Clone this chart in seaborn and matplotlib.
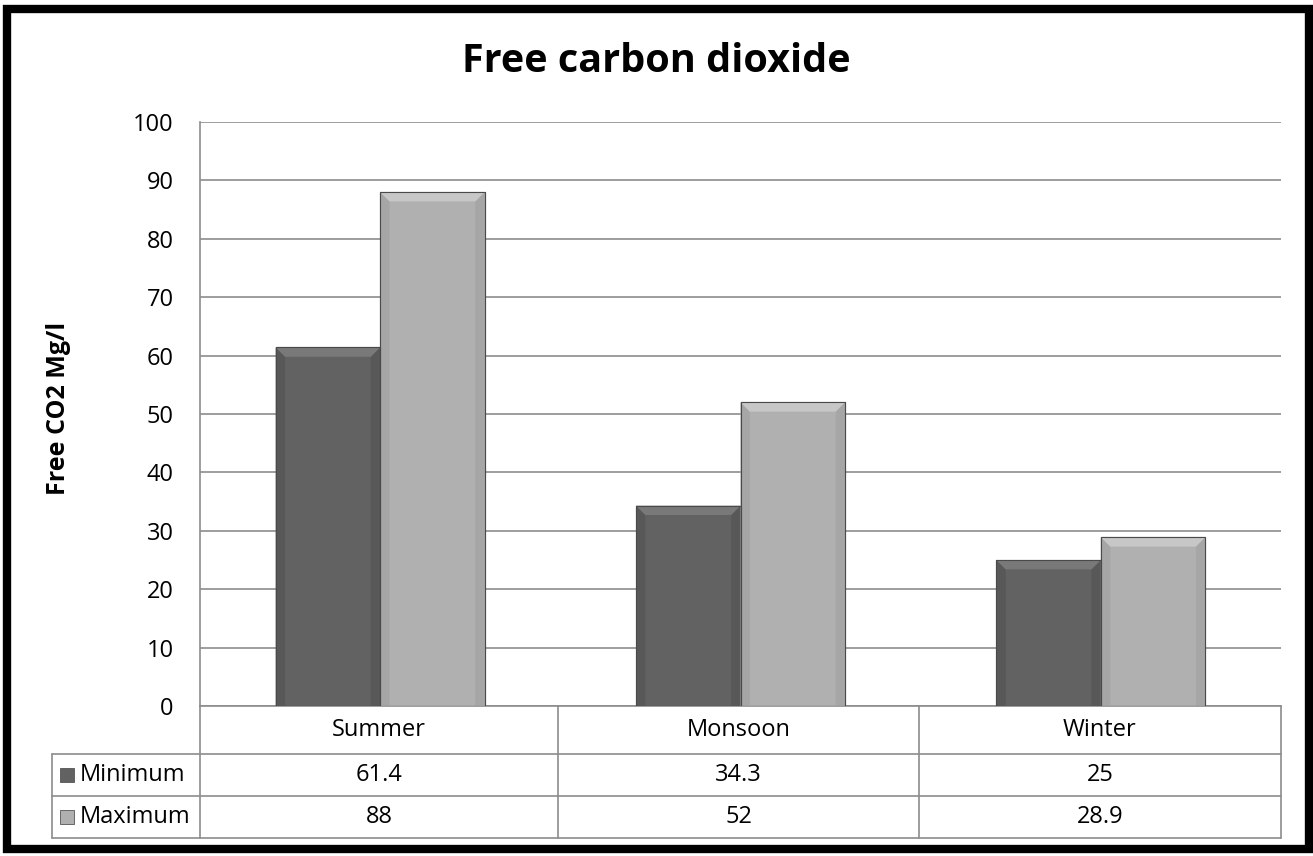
import matplotlib
matplotlib.use("Agg")
import matplotlib.pyplot as plt
import seaborn as sns
import pandas as pd
from matplotlib.patches import Polygon, Rectangle

seasons = ["Summer", "Monsoon", "Winter"]
minimum = [61.4, 34.3, 25]
maximum = [88, 52, 28.9]
series = ["Minimum", "Maximum"]
yticks = [0, 10, 20, 30, 40, 50, 60, 70, 80, 90, 100]

colors = {"Minimum": "#626262", "Maximum": "#b0b0b0"}

df = pd.DataFrame({
    "season": seasons * 2,
    "series": ["Minimum"] * 3 + ["Maximum"] * 3,
    "value": minimum + maximum,
})

sns.set_theme(style="white")
plt.rcParams["font.family"] = ["Open Sans", "DejaVu Sans"]
plt.rcParams["text.color"] = "black"
plt.rcParams["axes.labelcolor"] = "black"
plt.rcParams["ytick.color"] = "black"

W, H = 1313, 856
fig = plt.figure(figsize=(W / 100, H / 100), dpi=100)
ax = fig.add_axes([200 / W, 1 - 706 / H, (1281 - 200) / W, (706 - 122) / H])

sns.barplot(data=df, x="season", y="value", hue="series", order=seasons,
            hue_order=series, palette=colors, width=0.58, gap=0,
            saturation=1, edgecolor="#4a4a4a", linewidth=0.8,
            legend=False, ax=ax, zorder=3)

ax.set_ylim(0, 100)
ax.set_xlim(-0.5, 2.5)
ax.set_yticks(yticks)
ax.set_yticklabels([str(t) for t in yticks], fontsize=17)
ax.tick_params(axis="y", length=0, pad=19)
ax.set_xticks([])
ax.set_xlabel("")
ax.set_ylabel("Free CO2 Mg/l", fontsize=18, fontweight="bold")
ax.yaxis.set_label_coords(-0.119, 0.51)
ax.grid(axis="y", color="#8c8c8c", linewidth=1.2, zorder=0)
for side in ["top", "right"]:
    ax.spines[side].set_visible(False)
for side in ["left", "bottom"]:
    ax.spines[side].set_color("#8c8c8c")
    ax.spines[side].set_linewidth(1.2)

# bevelled look on each bar: light top edge, slightly darker sides
bx = 0.026   # bevel width in x data units
by = 1.6     # bevel height in y data units
for p in ax.patches:
    x0, w, h = p.get_x(), p.get_width(), p.get_height()
    if h <= 0:
        continue
    x1 = x0 + w
    base = p.get_facecolor()
    light = tuple(min(1, c + 0.09) for c in base[:3])
    dark = tuple(max(0, c - 0.04) for c in base[:3])
    ax.add_patch(Polygon([(x0, 0), (x0, h), (x0 + bx, h - by), (x0 + bx, 0)],
                         closed=True, facecolor=dark, edgecolor="none", zorder=4))
    ax.add_patch(Polygon([(x1, 0), (x1, h), (x1 - bx, h - by), (x1 - bx, 0)],
                         closed=True, facecolor=dark, edgecolor="none", zorder=4))
    ax.add_patch(Polygon([(x0, h), (x1, h), (x1 - bx, h - by), (x0 + bx, h - by)],
                         closed=True, facecolor=light, edgecolor="none", zorder=4))
    ax.add_patch(Rectangle((x0, 0), w, h, facecolor="none", edgecolor="#4a4a4a",
                           linewidth=0.8, zorder=5))

# data table below the plot, in figure pixel coordinates
def fx(px):
    return px / W

def fy(py):
    return 1 - py / H

line_kw = dict(color="#8c8c8c", linewidth=1.2, transform=fig.transFigure)
col_edges = [200, 558, 919, 1281]
row_edges = [706, 754, 796, 838]
for yy in row_edges[1:]:
    fig.add_artist(plt.Line2D([fx(52), fx(1281)], [fy(yy), fy(yy)], **line_kw))
for xx in col_edges:
    fig.add_artist(plt.Line2D([fx(xx), fx(xx)], [fy(706), fy(838)], **line_kw))
fig.add_artist(plt.Line2D([fx(52), fx(52)], [fy(754), fy(838)], **line_kw))

cell_fs = 17
for i, s in enumerate(seasons):
    cx = (col_edges[i] + col_edges[i + 1]) / 2
    fig.text(fx(cx), fy(730), s, ha="center", va="center", fontsize=cell_fs)
    fig.text(fx(cx), fy(775), f"{minimum[i]:g}", ha="center", va="center", fontsize=cell_fs)
    fig.text(fx(cx), fy(817), f"{maximum[i]:g}", ha="center", va="center", fontsize=cell_fs)

for name, yc in zip(series, [775, 817]):
    sq = 14
    fig.add_artist(Rectangle((fx(60), fy(yc + sq / 2)), sq / W, sq / H,
                             facecolor=colors[name], edgecolor="#555555",
                             linewidth=0.6, transform=fig.transFigure))
    fig.text(fx(80), fy(yc), name, ha="left", va="center", fontsize=cell_fs)

fig.text(0.5, fy(61), "Free carbon dioxide", ha="center", va="center",
         fontsize=28.5, fontweight="bold")

# outer frame
fig.add_artist(Rectangle((fx(7), fy(849)), (1309 - 7) / W, (849 - 9) / H,
                         facecolor="none", edgecolor="black", linewidth=6,
                         transform=fig.transFigure))

fig.savefig("out.png", dpi=100)
